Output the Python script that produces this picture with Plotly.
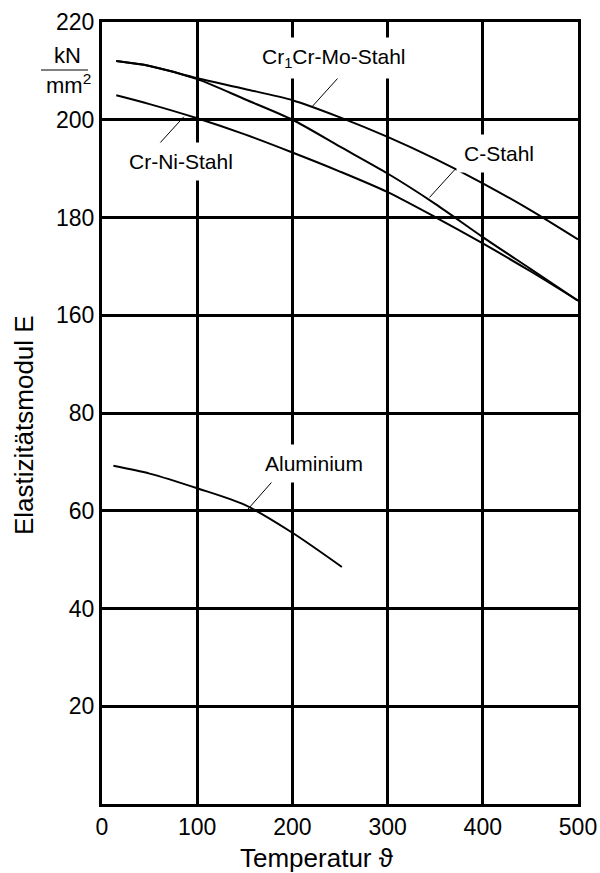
import plotly.graph_objects as go

# ---------------- data ----------------
T_steel = [15, 50, 100, 150, 200, 250, 300, 350, 400, 450, 500]
E_crmo = [212, 211, 208.5, 206.3, 204, 200.5, 196.5, 192, 187, 181.5, 175.5]
E_cstahl = [212, 211, 208.3, 204.2, 200, 194.5, 189, 182.8, 176, 169.5, 163]
E_crni = [205, 203.2, 200.3, 197, 193.3, 189.4, 185.2, 180.1, 174.7, 169, 163]

T_alu = [12, 50, 100, 150, 200, 252]
E_alu = [69.2, 67.6, 64.6, 61.2, 55.5, 48.5]

x_ticks = [0, 100, 200, 300, 400, 500]
y_tick_values = [0, 20, 40, 60, 80, 160, 180, 200, 220]
y_tick_labels = ["", "20", "40", "60", "80", "160", "180", "200", "220"]

# labels: text, text position (T, E), leader start on curve (T, E), leader end (T, E)
label_texts = ["Cr<sub>1</sub>Cr-Mo-Stahl", "C-Stahl", "Cr-Ni-Stahl", "Aluminium"]
label_T = [243.2, 416.5, 83.0, 222.2]
label_E = [212.6, 193.1, 191.5, 69.7]
leader_T0 = [220.8, 344.0, 85.9, 153.2]
leader_E0 = [202.7, 184.1, 200.6, 60.3]
leader_T1 = [250.5, 372.0, 56.9, 179.4]
leader_E1 = [209.1, 190.1, 194.4, 66.1]


# broken y axis: 0..80 and 160..220 on equal grid steps
def ypos(e):
    if isinstance(e, (list, tuple)):
        return [ypos(v) for v in e]
    if e <= 100:
        return e / 20.0
    return 4 + (e - 140) / 20.0


fig = go.Figure()
for E in (E_crmo, E_cstahl, E_crni):
    fig.add_trace(go.Scatter(x=T_steel, y=ypos(E), mode="lines",
                             line=dict(color="black", width=2, shape="spline", smoothing=0.8),
                             hoverinfo="skip"))
fig.add_trace(go.Scatter(x=T_alu, y=ypos(E_alu), mode="lines",
                         line=dict(color="black", width=2, shape="spline", smoothing=0.8),
                         hoverinfo="skip"))

for i in range(len(label_texts)):
    fig.add_shape(type="line", xref="x", yref="y",
                  x0=leader_T0[i], y0=ypos(leader_E0[i]),
                  x1=leader_T1[i], y1=ypos(leader_E1[i]),
                  line=dict(color="black", width=1), layer="above")
    fig.add_annotation(x=label_T[i], y=ypos(label_E[i]), xref="x", yref="y",
                       text=label_texts[i], showarrow=False,
                       xanchor="center", yanchor="middle",
                       font=dict(size=21, color="black"),
                       bgcolor="white", borderpad=7)

# plot area in page pixels: x 102..578, y 22..804
L, T_, W, H = 102, 22, 476, 782
def px(xp):
    return (xp - L) / W
def py(yp):
    return 1 - (yp - T_) / H

# unit label kN / mm2
fig.add_annotation(x=px(67), y=py(55), xref="paper", yref="paper", text="kN",
                   xanchor="center", yanchor="middle",
                   showarrow=False, font=dict(size=22, color="black"))
fig.add_annotation(x=px(68), y=py(84), xref="paper", yref="paper", text="mm<sup>2</sup>",
                   xanchor="center", yanchor="middle",
                   showarrow=False, font=dict(size=22, color="black"))
fig.add_shape(type="line", xref="paper", yref="paper", x0=px(41), x1=px(88),
              y0=py(70), y1=py(70), line=dict(color="black", width=1))

# axis titles
fig.add_annotation(x=px(24), y=py(425), xref="paper", yref="paper",
                   text="Elastizitätsmodul E", textangle=-90, showarrow=False,
                   xanchor="center", yanchor="middle",
                   font=dict(size=26, color="black"))
fig.add_annotation(x=px(317), y=py(858), xref="paper", yref="paper",
                   text="Temperatur ϑ", showarrow=False,
                   xanchor="center", yanchor="middle",
                   font=dict(size=26, color="black"))

fig.update_layout(
    width=600, height=873,
    margin=dict(l=L, r=600 - L - W, t=T_, b=873 - T_ - H, autoexpand=False),
    plot_bgcolor="white", paper_bgcolor="white",
    showlegend=False,
    font=dict(family="Liberation Sans, Arial, sans-serif", color="black"),
)
fig.update_xaxes(range=[0, 500], tickvals=x_ticks, ticktext=[str(v) for v in x_ticks],
                 showgrid=True, gridcolor="black", gridwidth=3,
                 showline=True, linecolor="black", linewidth=3, mirror=True,
                 zeroline=False, ticks="", tickfont=dict(size=23), automargin=False,
                 ticklabeloverflow="allow")
fig.update_yaxes(range=[0, 8], tickvals=[ypos(v) for v in y_tick_values], ticktext=y_tick_labels,
                 showgrid=True, gridcolor="black", gridwidth=3,
                 showline=True, linecolor="black", linewidth=3, mirror=True,
                 zeroline=False, ticks="", tickfont=dict(size=23), automargin=False)

fig.write_html("out.html",
               config={"displayModeBar": False, "staticPlot": True},
               post_script="document.body.style.margin='0';document.body.style.overflow='hidden';")
